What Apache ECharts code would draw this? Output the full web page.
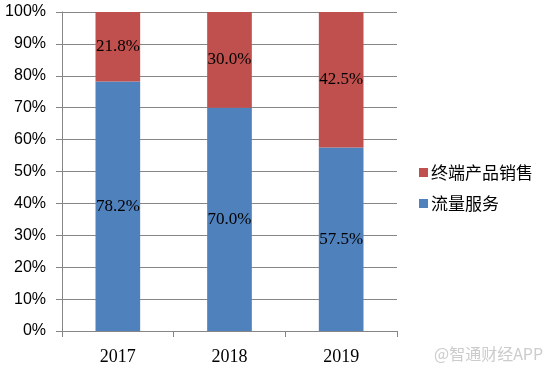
<!DOCTYPE html>
<html><head><meta charset="utf-8">
<script src="https://cdn.jsdelivr.net/npm/echarts@6/dist/echarts.min.js"></script>
<style>html,body{margin:0;padding:0;background:#fff}#c{width:554px;height:373px}</style>
</head><body><div id="c"></div>
<script>
var categories = ['2017', '2018', '2019'];
var serviceValues = [78.2, 70.0, 57.5];
var terminalValues = [21.8, 30.0, 42.5];
var serviceName = '流量服务';
var terminalName = '终端产品销售';

var chart = echarts.init(document.getElementById('c'), null, {renderer: 'canvas'});
var lbl = {show: true, position: 'inside', color: '#000', fontFamily: 'Liberation Serif', fontSize: 17,
  formatter: function (p) { return p.value.toFixed(1) + '%'; }};
chart.setOption({
  animation: false,
  grid: {left: 62, right: 157, top: 12, bottom: 42},
  legend: {
    orient: 'vertical', left: 414, top: 159, itemWidth: 9, itemHeight: 9, itemGap: 14,
    icon: 'rect',
    textStyle: {fontFamily: 'Noto Sans CJK SC', fontSize: 17, color: '#000', padding: [0, 0, 0, -2]},
    data: [terminalName, serviceName]
  },
  xAxis: {
    type: 'category', data: categories,
    axisLine: {lineStyle: {color: '#868686'}},
    axisTick: {show: true, length: 6, lineStyle: {color: '#868686'}},
    axisLabel: {color: '#000', fontFamily: 'Liberation Serif', fontSize: 18, margin: 17}
  },
  yAxis: {
    type: 'value', min: 0, max: 100, interval: 10,
    axisLine: {show: true, lineStyle: {color: '#868686'}},
    axisTick: {show: true, length: 6, lineStyle: {color: '#868686'}},
    splitLine: {lineStyle: {color: '#868686'}},
    axisLabel: {color: '#000', fontFamily: 'Liberation Sans', fontSize: 16, margin: 16,
      formatter: '{value}%'}
  },
  series: [
    {name: serviceName, type: 'bar', stack: 't', data: serviceValues, barWidth: '40%',
     itemStyle: {color: '#4F81BD'}, label: lbl},
    {name: terminalName, type: 'bar', stack: 't', data: terminalValues, barWidth: '40%',
     itemStyle: {color: '#C0504D'}, label: lbl}
  ],
  graphic: [{type: 'text', left: 434, top: 346,
    style: {text: '@智通财经APP', fill: '#cccccc', font: '16px "Noto Sans CJK SC"'}}]
});
</script></body></html>
